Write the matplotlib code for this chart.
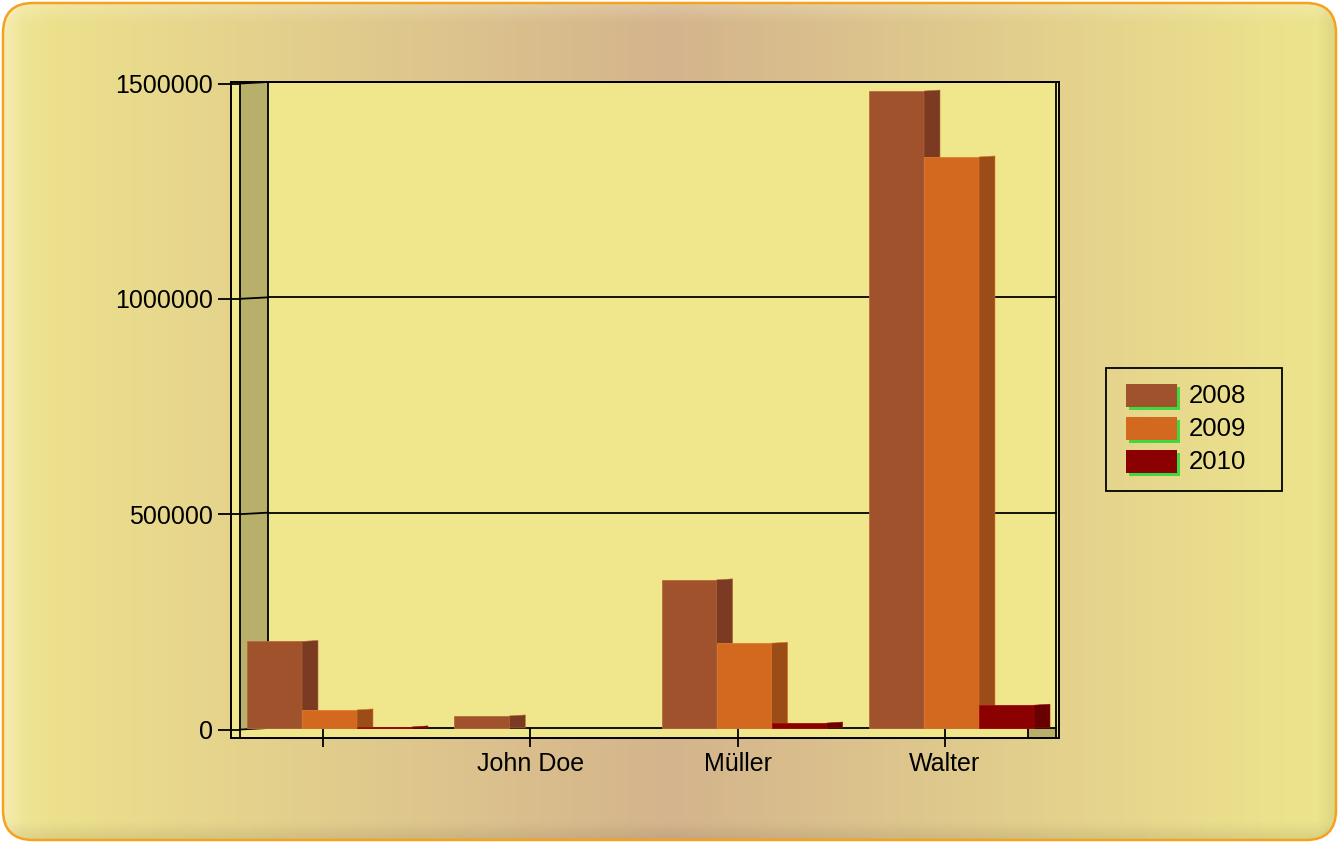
import numpy as np
import matplotlib
matplotlib.use("Agg")
import matplotlib.pyplot as plt
from matplotlib.patches import Polygon, Rectangle, FancyBboxPatch

# ---------------- data ----------------
categories = ["", "John Doe", "Müller", "Walter"]
series = ["2008", "2009", "2010"]
values_2008 = [201000, 28000, 344000, 1479000]
values_2009 = [42000, 0, 197000, 1326000]
values_2010 = [2500, 0, 11500, 53000]
ytick_values = [0, 500000, 1000000, 1500000]
ytick_labels = ["0", "500000", "1000000", "1500000"]

front_colors = ["#A0522D", "#D2691E", "#8B0000"]
side_colors = ["#7A3B22", "#9C4C16", "#690000"]
edge_colors = ["#B86A3E", "#E07A30", "#A01010"]

plt.rcParams['font.family'] = ['Liberation Sans', 'DejaVu Sans']

W, H = 1339, 843
fig = plt.figure(figsize=(W / 100, H / 100), dpi=100)
fig.patch.set_facecolor("white")

# ---------------- background panel (pixel coordinates) ----------------
bg = fig.add_axes([0, 0, 1, 1])
bg.set_xlim(0, W)
bg.set_ylim(H, 0)
bg.axis("off")

xs = np.linspace(0, 1, W)
stops = np.array([0.0, 0.04, 0.5, 0.96, 1.0])
cols = np.array([[242, 232, 158], [236, 224, 140], [212, 180, 140],
                 [236, 226, 140], [236, 228, 140]]) / 255.0
grad = np.stack([np.interp(xs, stops, cols[:, k]) for k in range(3)], axis=-1)
img = np.repeat(grad[None, :, :], H, axis=0)
ys = np.arange(H)[:, None]
xx = np.arange(W)[None, :]
dark = np.clip((ys - (H - 22)) / 22.0, 0, 1) * 0.10 + np.clip((xx - (W - 22)) / 22.0, 0, 1) * 0.08
light = np.clip((22 - ys) / 22.0, 0, 1) * 0.25 + np.clip((22 - xx) / 22.0, 0, 1) * 0.25
img = img * (1 - dark[..., None]) + (1 - img) * light[..., None]
img = np.clip(img, 0, 1)

panel = FancyBboxPatch((3, 3), W - 6, H - 6, boxstyle="round,pad=0,rounding_size=30",
                       facecolor="none", edgecolor="#F5A21E", linewidth=1.8, zorder=3)
im = bg.imshow(img, extent=(0, W, H, 0), zorder=1, aspect="auto")
clip = FancyBboxPatch((3, 3), W - 6, H - 6, boxstyle="round,pad=0,rounding_size=30",
                      transform=bg.transData, facecolor="none", edgecolor="none")
im.set_clip_path(clip)
bg.add_patch(panel)

# ---------------- legend (pixel coordinates) ----------------
bg.add_patch(Rectangle((1106, 368), 176, 123, facecolor="none", edgecolor="black",
                       linewidth=1.3, zorder=5))
for i, (name, c) in enumerate(zip(series, front_colors)):
    top = 384 + 33 * i
    bg.add_patch(Rectangle((1129, top + 3), 51, 23, facecolor="#3FD83F",
                           edgecolor="none", zorder=5))
    bg.add_patch(Rectangle((1126, top), 51, 23, facecolor=c, edgecolor="none", zorder=6))
    bg.text(1189, top + 12, name, fontsize=18.5, va="center", ha="left", zorder=6)

# ---------------- main chart ----------------
L, R, T, B = 231, 1059, 82, 737.5
ax = fig.add_axes([L / W, 1 - B / H, (R - L) / W, (B - T) / H])

TICK0, STEP = 323.0, 207.33
ZERO_PX, TOP_PX = 728.0, 82.0
YPX = 1500000 / (ZERO_PX - TOP_PX)


def px_x(p):
    return (p - TICK0) / STEP


def px_y(p):
    return (ZERO_PX - p) * YPX


ax.set_xlim(px_x(L), px_x(R))
ax.set_ylim(px_y(B), px_y(T))
ax.set_facecolor("#F0E68C")

# left wall
ax.add_patch(Polygon([(px_x(240), px_y(ZERO_PX)), (px_x(268), px_y(ZERO_PX)),
                      (px_x(268), px_y(TOP_PX)), (px_x(240), px_y(TOP_PX + 1))],
                     closed=True, facecolor="#B8AF6A", edgecolor="none", zorder=1))
# right floor piece
ax.add_patch(Rectangle((px_x(1028), px_y(737)), px_x(1057) - px_x(1028),
                       px_y(ZERO_PX) - px_y(737), facecolor="#B8AF6A",
                       edgecolor="none", zorder=1))

lk = dict(color="black", linewidth=1.3, zorder=2, solid_capstyle="butt")
# gridlines on back wall and left wall
for v in ytick_values:
    ax.plot([px_x(268), px_x(1057)], [v, v], **lk)
    ax.plot([px_x(240), px_x(268)], [v - 1.5 * YPX, v], **lk)
    ax.plot([px_x(231), px_x(240)], [v - 1.5 * YPX, v - 1.5 * YPX], **lk)
ax.plot([px_x(240), px_x(240)], [px_y(737), px_y(TOP_PX + 1)], **lk)
ax.plot([px_x(268), px_x(268)], [px_y(ZERO_PX), px_y(TOP_PX)], **lk)
ax.plot([px_x(1056), px_x(1056)], [px_y(737), px_y(TOP_PX)], **lk)
ax.plot([px_x(1028), px_x(1028)], [px_y(737), px_y(ZERO_PX)], **lk)
# x tick marks continue through the floor
for ci in range(len(categories)):
    ax.plot([ci, ci], [px_y(737), 0], **lk)

# bars with pseudo-3D side faces
bar_w = 55 / STEP
depth = 16 / STEP
first_off = -76 / STEP
rise = 1.0 * YPX
for si, vals in enumerate([values_2008, values_2009, values_2010]):
    for ci, v in enumerate(vals):
        if v <= 0:
            continue
        x0 = ci + first_off + si * bar_w
        ax.bar(x0, v, width=bar_w, align="edge", color=front_colors[si],
               edgecolor=edge_colors[si], linewidth=0.6, zorder=4 + si)
        ax.add_patch(Polygon([(x0 + bar_w, 0), (x0 + bar_w + depth, 0),
                              (x0 + bar_w + depth, v + rise), (x0 + bar_w, v)],
                             closed=True, facecolor=side_colors[si],
                             edgecolor=edge_colors[si], linewidth=0.4, zorder=4 + si))

# axes frame and ticks
for s in ax.spines.values():
    s.set_linewidth(1.4)
    s.set_color("black")
ax.set_xticks(range(len(categories)))
ax.set_xticklabels(categories, fontsize=18)
ax.set_yticks([v - 1.5 * YPX for v in ytick_values])
ax.set_yticklabels(ytick_labels, fontsize=18)
ax.tick_params(axis="x", direction="out", length=6.5, width=1.3, pad=4)
ax.tick_params(axis="y", direction="out", length=9.4, width=1.3, pad=3.5)

fig.savefig("out.png", dpi=100, facecolor=fig.get_facecolor())
